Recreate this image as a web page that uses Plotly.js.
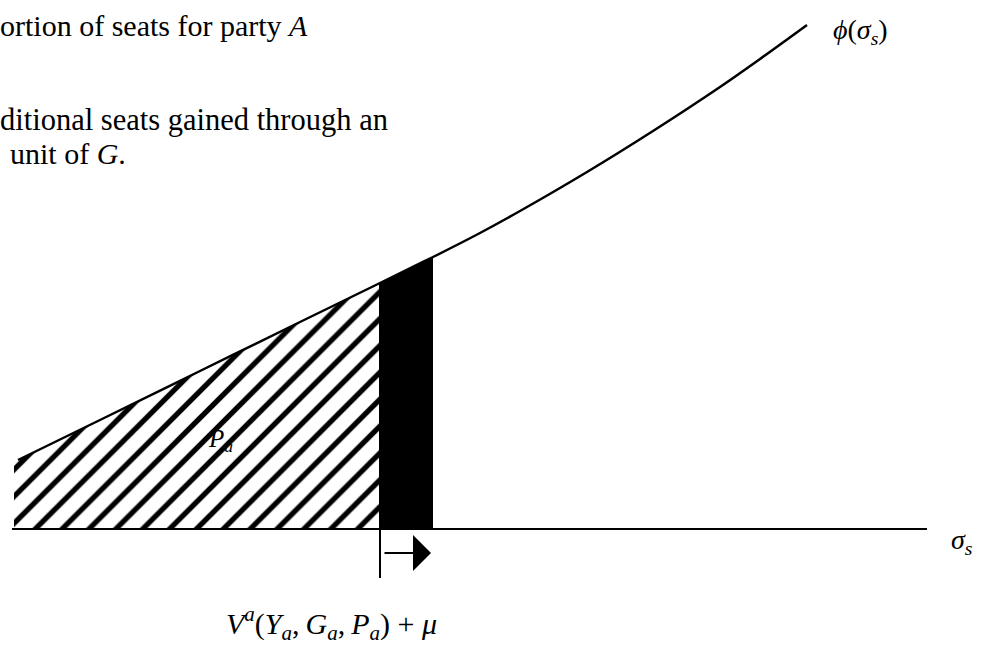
<!DOCTYPE html>
<html>
<head>
<meta charset="utf-8">
<script src="https://cdn.plot.ly/plotly-3.0.1.min.js"></script>
<style>html,body{margin:0;padding:0;background:#fff;}#chart{width:982px;height:651px;}</style>
</head>
<body>
<div id="chart"></div>
<script>
// Curve phi(sigma_s): sigma positions and heights above the sigma axis
const sigmaValues = [18, 100, 200, 300, 380, 433, 480, 520, 587, 653, 720, 760, 807];
const phiValues   = [69, 109, 158, 207, 246, 272, 296, 318, 357, 398, 442, 470, 504];
const hatchStart = 14, hatchStartHeight = 64;   // left edge of shaded area P_a
const voterPoint = 380;        // V^a(Y_a,G_a,P_a)+mu
const shiftedPoint = 433;      // after one additional unit of G
const axisStart = 12, axisEnd = 927;
const markBelow = -49;         // lower end of the vertical marker
const arrowLevel = -24;

const labels = {
  line1: "ortion of seats for party <i>A</i>",
  line2: "ditional seats gained through an",
  line3: "unit of <i>G</i>.",
  phi: "<i>\u03D5</i>(<i>σ</i><sub><i>s</i></sub>)",
  sigma: "<i>σ</i><sub><i>s</i></sub>",
  pa: "<i>P</i><sub><i>a</i></sub>",
  v: "<i>V</i><sup><i>a</i></sup>(<i>Y</i><sub><i>a</i></sub>,\u2009<i>G</i><sub><i>a</i></sub>,\u2009<i>P</i><sub><i>a</i></sub>) + <i>μ</i>"
};

// hatched region under the curve up to voterPoint
const hx = [hatchStart], hy = [hatchStartHeight];
sigmaValues.forEach((s, i) => { if (s <= voterPoint) { hx.push(s); hy.push(phiValues[i]); } });
hx.push(voterPoint, hatchStart); hy.push(0, 0);

// black bar between voterPoint and shiftedPoint
const bx = [], by = [];
sigmaValues.forEach((s, i) => { if (s >= voterPoint && s <= shiftedPoint) { bx.push(s); by.push(phiValues[i]); } });
bx.push(shiftedPoint, voterPoint); by.push(0, 0);

const vIdx = sigmaValues.indexOf(voterPoint);

const traces = [
  {x: hx, y: hy, mode: 'lines', fill: 'toself', line: {width: 0, color: 'rgba(0,0,0,0)'},
   fillcolor: 'white',
   fillpattern: {shape: '/', size: 19, solidity: 0.28, fgcolor: 'black', bgcolor: 'white', fillmode: 'replace'},
   hoverinfo: 'skip'},
  {x: bx, y: by, mode: 'lines', fill: 'toself', fillcolor: 'black', line: {width: 0, color: 'black'}, hoverinfo: 'skip'},
  {x: [axisStart, axisEnd], y: [0, 0], mode: 'lines', line: {color: 'black', width: 2}, hoverinfo: 'skip'},
  {x: [voterPoint, voterPoint], y: [phiValues[vIdx], markBelow], mode: 'lines', line: {color: 'black', width: 2}, hoverinfo: 'skip'},
  {x: sigmaValues, y: phiValues, mode: 'lines', line: {color: 'black', width: 2.5, shape: 'spline', smoothing: 1}, hoverinfo: 'skip'}
];

const serif = {family: 'Liberation Serif, Times New Roman, serif', color: 'black'};
const f = (size) => Object.assign({}, serif, {size: size});

const layout = {
  width: 982, height: 651,
  margin: {l: 0, r: 0, t: 0, b: 0},
  paper_bgcolor: 'white', plot_bgcolor: 'white',
  showlegend: false,
  xaxis: {range: [0, 982], visible: false, fixedrange: true},
  yaxis: {range: [-122, 529], visible: false, fixedrange: true},
  annotations: [
    {x: 0, xshift: -2, y: 504, xref: 'x', yref: 'y', text: labels.line1, showarrow: false, xanchor: 'left', yanchor: 'middle', font: f(30)},
    {x: 0, xshift: -2, y: 409, xref: 'x', yref: 'y', text: labels.line2, showarrow: false, xanchor: 'left', yanchor: 'middle', font: f(30.5)},
    {x: 8, y: 376, xref: 'x', yref: 'y', text: labels.line3, showarrow: false, xanchor: 'left', yanchor: 'middle', font: f(30)},
    {x: 831, y: 498, xref: 'x', yref: 'y', text: labels.phi, showarrow: false, xanchor: 'left', yanchor: 'middle', font: f(28)},
    {x: 949, y: -12, xref: 'x', yref: 'y', text: labels.sigma, showarrow: false, xanchor: 'left', yanchor: 'middle', font: f(28)},
    {x: 206, y: 89, xref: 'x', yref: 'y', text: labels.pa, showarrow: false, xanchor: 'left', yanchor: 'middle', font: f(25)},
    {x: 224, y: -94, xref: 'x', yref: 'y', text: labels.v, showarrow: false, xanchor: 'left', yanchor: 'middle', font: f(30)},
    {x: 431, y: arrowLevel, ax: voterPoint + 3, ay: arrowLevel, xref: 'x', yref: 'y', axref: 'x', ayref: 'y',
     text: '', showarrow: true, arrowhead: 1, arrowsize: 3, arrowwidth: 2, arrowcolor: 'black', standoff: 0, startstandoff: 0}
  ]
};

Plotly.newPlot('chart', traces, layout, {displayModeBar: false, staticPlot: true});
</script>
</body>
</html>
